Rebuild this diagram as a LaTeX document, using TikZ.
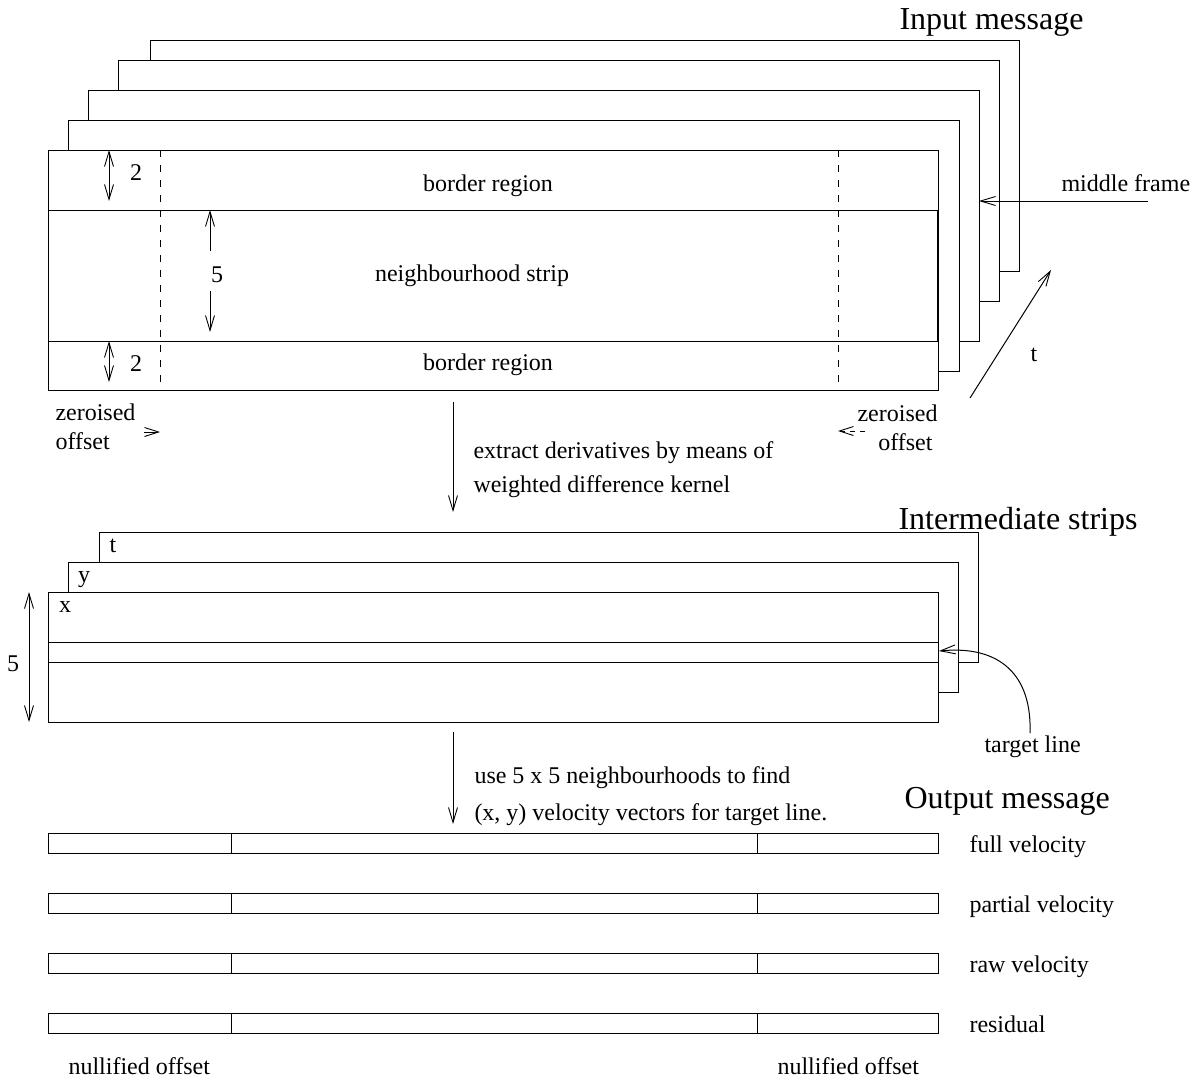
\documentclass[tikz,border=0pt]{standalone}
\usepackage{fontspec}
\setmainfont{Liberation Serif}
\usetikzlibrary{arrows.meta}
\begin{document}
\begin{tikzpicture}[x=1pt,y=-1pt,line width=1pt,
  frame/.style={draw=black,fill=white},
  barb/.style={-{Straight Barb[length=15pt,width=9pt,line width=0.9pt]}},
  dbarb/.style={{Straight Barb[length=15pt,width=9pt,line width=0.9pt]}-{Straight Barb[length=15pt,width=9pt,line width=0.9pt]}},
  txt/.style={inner sep=0pt,font=\fontsize{24}{28}\selectfont},
  big/.style={inner sep=0pt,font=\fontsize{32}{36}\selectfont},
  zdash/.style={dash pattern=on 7pt off 8pt,line width=0.9pt}]
\useasboundingbox (0,0) rectangle (1198,1082);
% ---------------- input message frames
\draw[frame] (150,40) rectangle (1019,271);
\draw[frame] (118,60) rectangle (999,301);
\draw[frame] (88,90) rectangle (979,341);
\draw[frame] (68,120) rectangle (959,371);
\draw[frame] (48,150) rectangle (938,390);
\draw (48,210) rectangle (938,341);
\draw[line width=1.6pt] (938,210) -- (938,341);
\draw[zdash] (160,150) -- (160,390);
\draw[zdash] (838,150) -- (838,390);
\node[big,anchor=base west] (inmsg) at (899,29) {Input message};
\node[txt,anchor=base] (br1) at (488,191) {border region};
\node[txt,anchor=base] (ns) at (472,281) {neighbourhood strip};
\node[txt,anchor=base] (br2) at (488,370) {border region};
% dimension arrows
\coordinate (a2t) at (109,150); \coordinate (a2b) at (109,201);
\draw[dbarb] (a2t) -- (a2b);
\node[txt,anchor=base] (l2a) at (136,180) {2};
\coordinate (b2t) at (109,341); \coordinate (b2b) at (109,382);
\draw[dbarb] (b2t) -- (b2b);
\node[txt,anchor=base] (l2b) at (136,371) {2};
\node[txt,anchor=base] (l5a) at (217,282) {5};
\coordinate (f5t) at (210,210); \coordinate (f5b) at (210,332);
\draw[barb] (210,251) -- (f5t);
\draw[barb] (210,291) -- (f5b);
% middle frame
\node[txt,anchor=base west] (mf) at (1061,191) {middle frame};
\coordinate (mfs) at (1148,201); \coordinate (mfe) at (979,201);
\draw[barb] (mfs) -- (mfe);
% t arrow
\coordinate (ts) at (970,398); \coordinate (te) at (1051,270);
\draw[barb] (ts) -- (te);
\node[txt,anchor=base] (tl) at (1034,361) {t};
% zeroised offset
\node[txt,anchor=base west] (zo1) at (55,420) {zeroised};
\node[txt,anchor=base west] (zo2) at (55,449) {offset};
\draw[-{Straight Barb[length=14pt,width=9pt,line width=0.9pt]}] (144,432) -- (160,432);
\node[txt,anchor=base east] (zo3) at (938,421) {zeroised};
\node[txt,anchor=base east] (zo4) at (933,450) {offset};
\draw[-{Straight Barb[length=14pt,width=9pt,line width=0.9pt]},dash pattern=on 5pt off 5pt] (865,431) -- (838,431);
% arrow 1
\coordinate (a1s) at (453,402); \coordinate (a1e) at (453,512);
\draw[barb] (a1s) -- (a1e);
\node[txt,anchor=base west] (ex1) at (473,458) {extract derivatives by means of};
\node[txt,anchor=base west] (ex2) at (473,492) {weighted difference kernel};
% ---------------- intermediate strips
\node[big,anchor=base west] (ims) at (898,529) {Intermediate strips};
\draw[frame] (99,532) rectangle (978,662);
\draw[frame] (68,562) rectangle (958,692);
\draw[frame] (48,592) rectangle (938,722);
\draw (48,642) rectangle (938,662);
\node[txt,anchor=base] (lt) at (113,552) {t};
\node[txt,anchor=base] (ly) at (84,582) {y};
\node[txt,anchor=base] (lx) at (65,612) {x};
\coordinate (i5t) at (29,592); \coordinate (i5b) at (29,722);
\draw[dbarb] (i5t) -- (i5b);
\node[txt,anchor=base] (l5b) at (13,671) {5};
\node[txt,anchor=base west] (tgl) at (984,752) {target line};
\coordinate (tgs) at (1030,733); \coordinate (tge) at (939,651);
\draw[barb] (tgs) .. controls (1032,675) and (1000,645) .. (tge);
% arrow 2
\coordinate (a2s) at (453,732); \coordinate (a2e) at (453,824);
\draw[barb] (a2s) -- (a2e);
\node[txt,anchor=base west] (us1) at (474,783) {use 5 x 5 neighbourhoods to find};
\node[txt,anchor=base west] (us2) at (474,820) {(x, y) velocity vectors for target line.};
% ---------------- output message
\node[big,anchor=base west] (om) at (904,808) {Output message};
\foreach \yy/\lab in {833/full velocity,893/partial velocity,953/raw velocity,1013/residual}{
  \draw (48,\yy) rectangle (938,\yy+20);
  \draw (231,\yy) -- (231,\yy+20);
  \draw (757,\yy) -- (757,\yy+20);
  \node[txt,anchor=base west] at (969,\yy+19) {\lab};
}
\node[txt,anchor=base west] (nul1) at (68,1074) {nullified offset};
\node[txt,anchor=base west] (nul2) at (777,1074) {nullified offset};
\end{tikzpicture}
\end{document}
